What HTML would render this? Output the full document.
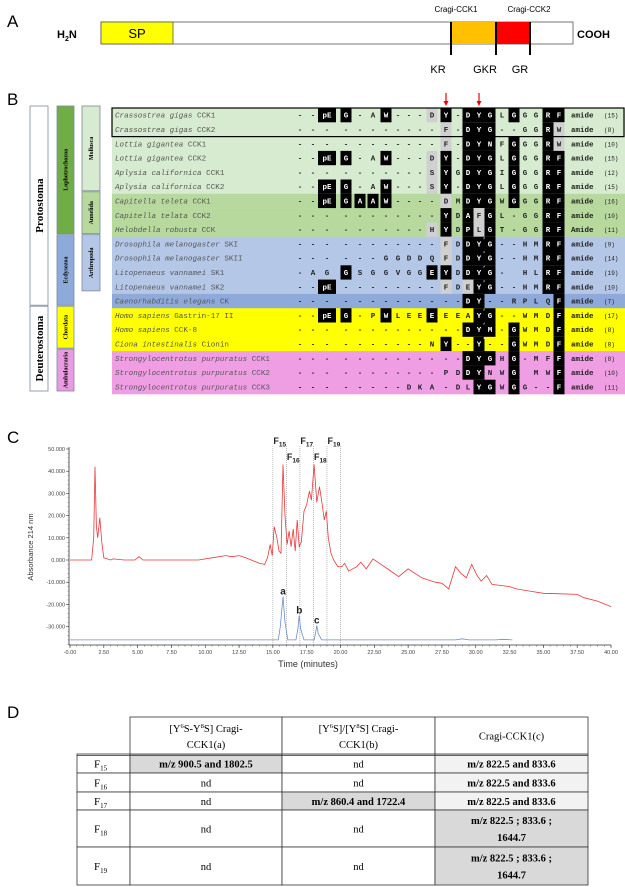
<!DOCTYPE html>
<html><head><meta charset="utf-8"><style>
body{margin:0;background:#fff;}
svg{display:block;font-family:"Liberation Sans",sans-serif;}
.mono{font-family:"Liberation Mono",monospace;}
.serif{font-family:"Liberation Serif",serif;}
</style></head><body>
<svg id="fig" width="625" height="887" viewBox="0 0 625 887" xmlns="http://www.w3.org/2000/svg">
<!-- Panel A -->
<g>
<text x="7" y="27" font-size="17">A</text>
<text x="57" y="38" font-size="11" font-weight="bold">H<tspan font-size="7" dy="3">2</tspan><tspan dy="-3">N</tspan></text>
<rect x="101" y="22" width="472" height="22" fill="#fff" stroke="#555" stroke-width="0.8"/>
<rect x="101" y="22" width="72" height="22" fill="#ffff00" stroke="#555" stroke-width="0.8"/>
<text x="137" y="38" font-size="13" text-anchor="middle">SP</text>
<rect x="451" y="22" width="45" height="22" fill="#ffc000"/>
<rect x="496" y="22" width="34" height="22" fill="#ff0000"/>
<line x1="451" y1="22" x2="451" y2="55" stroke="#000" stroke-width="2"/>
<line x1="496" y1="22" x2="496" y2="55" stroke="#000" stroke-width="2"/>
<line x1="530" y1="22" x2="530" y2="55" stroke="#000" stroke-width="2"/>
<text x="456" y="12" font-size="8" text-anchor="middle">Cragi-CCK1</text>
<text x="529" y="12" font-size="8" text-anchor="middle">Cragi-CCK2</text>
<text x="438" y="73" font-size="11" text-anchor="middle">KR</text>
<text x="485" y="73" font-size="11" text-anchor="middle">GKR</text>
<text x="520" y="73" font-size="11" text-anchor="middle">GR</text>
<text x="577" y="38" font-size="11" font-weight="bold">COOH</text>
</g>
<text x="7" y="105" font-size="17">B</text>
<g id="panelB"></g>
<text x="7" y="443" font-size="17">C</text>
<g id="panelC"></g>
<!-- Panel D -->
<text x="7" y="718" font-size="17">D</text>
<g id="panelD" class="serif"></g>
</svg>
<script>
// ---------- Panel B data ----------
const names = [
 ["Crassostrea gigas","CCK1"],["Crassostrea gigas","CCK2"],["Lottia gigantea","CCK1"],["Lottia gigantea","CCK2"],
 ["Aplysia californica","CCK1"],["Aplysia californica","CCK2"],["Capitella teleta","CCK1"],["Capitella telata","CCK2"],
 ["Helobdella robusta","CCK"],["Drosophila melanogaster","SKI"],["Drosophila melanogaster","SKII"],["Litopenaeus vannamei","SK1"],
 ["Litopenaeus vannamei","SK2"],["Caenorhabditis elegans","CK"],["Homo sapiens","Gastrin-17 II"],["Homo sapiens","CCK-8"],
 ["Ciona intestinalis","Cionin"],["Strongylocentrotus purpuratus","CCK1"],["Strongylocentrotus purpuratus","CCK2"],["Strongylocentrotus purpuratus","CCK3"]];
const seqs = [
 "- - pE G - A W - - - D Y - D Y G L G G G R F",
 "- - - - - - - - - - - F - D Y G - - G G R W",
 "- - - - - - - - - - - F - D Y N F G G G R W",
 "- - pE G - A W - - - D Y - D Y G L G G G R F",
 "- - - - - - - - - - S Y G D Y G I G G G R F",
 "- - pE G - A W - - - S Y - D Y G L G G G R F",
 "- - pE G A A W - - - - D M D Y G W G G G R F",
 "- - - - - - - - - - - Y D A F G L - G G R F",
 "- - - - - - - - - - H Y D P L G T - G G R F",
 "- - - - - - - - - - - F D D Y* G - - H M R F",
 "- - - - - - G G D D Q F D D Y* G - - H M R F",
 "- A G G S G G V G G E Y D D Y* G - _ H L R F",
 "- - pE - - - - - - - - F D E Y* G - - H M R F",
 "- - - - - - - - - - - - - D Y - - R P L Q F",
 "- - pE G - P W L E E E E E A Y* G - - W M D F",
 "- - - - - - - - - - - - - D Y* M - G W M D F",
 "- - - - - - - - - - N Y - - Y* - - G W M D F",
 "- - - - - - - - - - - - - D Y G H G - M F F",
 "- - - - - - - - - - - P D D Y N W G _ M W F",
 "- - - - - - - - D K A - D L Y G W G G - - F"];
const hilite = [
 "nnbbnnbnnngbnbbbnbnnbb","nnnnnnnnnnngnbbbnnnnbg","nnnnnnnnnnngnbbbnbnnbg","nnbbnnbnnngbnbbbnbnnbb",
 "nnnnnnnnnngbnbbbnbnnbb","nnbbnnbnnngbnbbbnbnnbb","nnbbbbbnnnngnbbbnbnnbb","nnnnnnnnnnnbnbgbnnnnbb",
 "nnnnnnnnnngbnbgbnnnnbb","nnnnnnnnnnngnbbbnnnnbb","nnnnnnnnnnngnbbbnnnnbb","nnnbnnnnnnbbnbbbnnnnbb",
 "nnbnnnnnnnngngbbnnnnbb","nnnnnnnnnnnnnbbnnnnnnb","nnbbnnbnnnbnnnbbnnnnnb","nnnnnnnnnnnnnbbbnbnnnb",
 "nnnnnnnnnnnbnnbnnbnnnb","nnnnnnnnnnnnnbbbnbnnnb","nnnnnnnnnnnnnbbnnbnnnb","nnnnnnnnnnnnnnbbnbnnnb"];
const lengths = [15,8,10,15,12,15,16,10,11,9,14,19,10,7,17,8,8,8,10,11];
const rowColors = ["#d6ebcf","#d6ebcf","#d6ebcf","#d6ebcf","#d6ebcf","#d6ebcf","#b8d99d","#b8d99d","#b8d99d",
 "#b5c7e7","#b5c7e7","#b5c7e7","#b5c7e7","#8eaadb","#ffff00","#ffff00","#ffff00","#ef9ee4","#ef9ee4","#ef9ee4"];
const colX = [300,313,327,346,360,373,386,398,409,420,432,446,458,468,479,490,502,514,525,536,548,559];
const NS = "http://www.w3.org/2000/svg";
function mk(tag, attrs, parent){const e=document.createElementNS(NS,tag);for(const k in attrs)e.setAttribute(k,attrs[k]);parent.appendChild(e);return e;}
const B = document.getElementById('panelB');
const rowTop = 108, rowH = 14.3;
names.forEach((nm,i)=>{
  const y0 = rowTop + i*rowH, cy = y0 + rowH/2 + 2.5;
  const g = mk('g',{},B);
  
  
  mk('rect',{x:112,y:y0,width:513,height:rowH+0.3,fill:rowColors[i]},g);
  const toks = seqs[i].split(' ');
  toks.forEach((t,j)=>{
    const h = hilite[i][j]; const x = colX[j];
    const w = t==='pE'?18:11;
    if(h==='b') mk('rect',{x:x-w/2,y:y0,width:w,height:rowH+0.3,fill:'#000'},g);
    if(h==='g') mk('rect',{x:x-w/2,y:y0,width:w,height:rowH+0.3,fill:'#d0d0d0'},g);
    if(t==='_') return;
    const star = t.endsWith('*'); const ch = star?t.slice(0,-1):t;
    const tx = mk('text',{x:x,y:cy,'font-size':7.5,'font-weight':'bold','text-anchor':'middle',fill:h==='b'?'#fff':'#222',class:'mono'},g);
    tx.textContent = ch;
    if(star){const s=mk('text',{x:x+3.5,y:cy-5,'font-size':6,fill:'#fff',class:'mono'},g);s.textContent='*';}
  });
  const nt = mk('text',{x:115,y:cy,'font-size':7.6,fill:'#555',class:'mono'},g);
  const it = mk('tspan',{'font-style':'italic'},nt); it.textContent = nm[0];
  const rt = mk('tspan',{},nt); rt.textContent = ' '+nm[1];
  const am = mk('text',{x:571,y:cy,'font-size':7.5,'font-weight':'bold',fill:'#222',class:'mono'},g);
  am.textContent = i===8?'Amide':'amide';
  const ln = mk('text',{x:604,y:cy,'font-size':6,fill:'#222',class:'mono'},g);
  ln.textContent = '('+lengths[i]+')';
});
const hb = mk('rect',{x:112,y:rowTop,width:512,height:rowH*2,fill:'none',stroke:'#000','stroke-width':1.2},B);


[446,479].forEach(x=>{
  const a=mk('g',{},B);
  
  
  mk('line',{x1:x,y1:93,x2:x,y2:102,stroke:'#e00','stroke-width':1.2},a);
  mk('path',{d:`M${x-2.5} 101 L${x+2.5} 101 L${x} 106 Z`,fill:'#e00'},a);
});
// taxonomy boxes
const tax = [
 [30,18,0,14,'#fff','Protostoma',11],[30,18,14,20,'#fff','Deuterostoma',11],
 [57,17,0,9,'#70ad47','Lophotrochozoa',6],[57,17,9,14,'#8eaadb','Ecdysozoa',6],
 [57,17,14,17,'#ffff00','Chordata',6],[57,17,17,20,'#e99ae0','Ambulacraria',6],
 [82,18,0,6,'#d6ebcf','Mollusca',6],[82,18,6,9,'#b8d99d','Annelida',6],[82,18,9,13,'#b5c7e7','Arthropoda',6]];
tax.forEach(t=>{
  const [x,w,r0,r1,c,label,fs]=t;
  const y0=rowTop+r0*rowH-2, h=(r1-r0)*rowH-1;
  const g=mk('g',{},B);
  
  
  mk('rect',{x:x,y:y0,width:w,height:h,fill:c,stroke:'#7a8aa0','stroke-width':0.8},g);
  const cx=x+w/2+fs*0.35, cy=y0+h/2;
  const tx=mk('text',{x:cx,y:cy,'font-size':fs,'font-weight':'bold','text-anchor':'middle',class:'serif',transform:`rotate(-90 ${cx} ${cy})`},g);
  tx.textContent=label;
});

// ---------- Panel C data ----------
const redTimes = [0,1.6,1.75,1.85,1.95,2.05,2.2,2.35,2.5,3,3.2,4,4.8,5.1,5.4,8,9.5,10.5,11.5,12,12.5,13,14,14.4,14.6,14.8,14.95,15.1,15.3,15.45,15.6,15.75,15.9,16.05,16.2,16.35,16.5,16.65,16.8,16.95,17.1,17.3,17.5,17.7,17.85,18.05,18.25,18.45,18.65,18.8,18.95,19.1,19.3,19.5,19.8,20.1,20.3,20.6,21.2,21.5,21.9,22.4,23,23.6,24.3,25,26,27,27.5,28,28.5,28.9,29.3,29.7,30.1,30.4,30.8,31.2,32.5,33,34,35,36,37.5,38,39,40];
const redValues = [0,0,10,42,15,10,19,8,1,0,0.5,0,0,1.5,0,0,0,1,2,1.5,2,1,-1.5,-2,1,7,2,15,10,4,3,43,20,7,13,6,14,4,18,6,8,22,25,31,27,43,26,33,25,18,22,10,3,0,-3,-3,-1.5,-5,-3,-1,-4,0.5,-2,-4.5,-7.5,-4,-8,-10,-10.5,-13,-3,-6,-8,-2,-7,-9.5,-7,-11,-12,-13,-14,-15,-15.2,-15.5,-17,-18.5,-21];
const blueTimes = [0,15.4,15.55,15.75,15.9,16.1,16.7,16.85,16.95,17.05,17.3,18.05,18.15,18.25,18.35,18.6,28.5,29,29.5,31.5,32,32.7];
const blueValues = [-36,-36,-30,-16.5,-28,-36,-36,-31,-25,-31,-36,-36,-33,-29.5,-33,-36,-36,-35.5,-36,-36,-35.7,-36];
const fracTimes = [15,16,17,18,19,20];
const fracLabels = ["15","16","17","18","19"];
const peakLabels = ["a","b","c"];
const peakTimes = [15.75,16.95,18.25];
const peakValues = [-16.5,-25,-29.5];
const yTicks = [50,40,30,20,10,0,-10,-20,-30];
const yTickLabels = ["50.000","40.000","30.000","20.000","10.000","0.000","-10.000","-20.000","-30.000"];
const xTicks = [0,2.5,5,7.5,10,12.5,15,17.5,20,22.5,25,27.5,30,32.5,35,37.5,40];
const xTickLabels = ["-0.00","2.50","5.00","7.50","10.00","12.50","15.00","17.50","20.00","22.50","25.00","27.50","30.00","32.50","35.00","37.50","40.00"];
const C = document.getElementById('panelC');
const X0=70, X1=611, Tmax=40, YZ=560, YPU=2.22, YBOT=645;
const xs = t => X0 + t/Tmax*(X1-X0);
const ys = v => YZ - v*YPU;
const yax = mk('line',{x1:69,y1:447,x2:69,y2:YBOT,stroke:'#333','stroke-width':0.8},C);


const xax = mk('line',{x1:69,y1:YBOT,x2:X1,y2:YBOT,stroke:'#333','stroke-width':0.8},C);


yTicks.forEach((v,i)=>{
  mk('line',{x1:66,y1:ys(v),x2:69,y2:ys(v),stroke:'#333','stroke-width':0.6},C);
  for(let k=1;k<5;k++){const yy=ys(v)+k*YPU*2; if(yy<YBOT) mk('line',{x1:67.5,y1:yy,x2:69,y2:yy,stroke:'#555','stroke-width':0.4},C);}
  const t=mk('text',{x:65,y:ys(v)+2,'font-size':5.5,'text-anchor':'end',fill:'#444'},C);
  
  
  t.textContent=yTickLabels[i];
});
for(let m=0;m<=40.001;m+=0.5){mk('line',{x1:xs(m),y1:YBOT,x2:xs(m),y2:YBOT+1.8,stroke:'#444','stroke-width':0.4},C);}
xTicks.forEach((m,i)=>{
  mk('line',{x1:xs(m),y1:YBOT,x2:xs(m),y2:YBOT+3,stroke:'#333','stroke-width':0.6},C);
  const t=mk('text',{x:xs(m),y:YBOT+9,'font-size':5.5,'text-anchor':'middle',fill:'#444'},C);
  
  
  t.textContent=xTickLabels[i];
});
const xt=mk('text',{x:308,y:667,'font-size':9,'text-anchor':'middle',fill:'#333'},C);


xt.textContent='Time (minutes)';
const yt=mk('text',{x:33,y:547,'font-size':7.5,'text-anchor':'middle',fill:'#333',transform:'rotate(-90 33 547)'},C);


yt.textContent='Absorbance 214 nm';
fracTimes.forEach(m=>{
  const l=mk('line',{x1:xs(m),y1:446,x2:xs(m),y2:YBOT,stroke:'#777','stroke-width':0.5,'stroke-dasharray':'1,1'},C);
  
  
});
fracLabels.forEach((lab,i)=>{
  const x=xs(fracTimes[i])+0.5, y=(i%2===0)?444:460;
  const t=mk('text',{x:x,y:y,'font-size':9,'font-weight':'bold',fill:'#222'},C);
  
  
  t.textContent='F';
  const s=mk('tspan',{'font-size':6.5,dy:2.5},t); s.textContent=lab;
});
const rp = mk('path',{d:redTimes.map((t,i)=>(i?'L':'M')+xs(t).toFixed(1)+' '+ys(redValues[i]).toFixed(1)).join(' '),fill:'none',stroke:'#e8393c','stroke-width':0.8},C);


const bp = mk('path',{d:blueTimes.map((t,i)=>(i?'L':'M')+xs(t).toFixed(1)+' '+ys(blueValues[i]).toFixed(1)).join(' '),fill:'none',stroke:'#6b8fc0','stroke-width':0.8},C);


peakLabels.forEach((p,i)=>{
  const t=mk('text',{x:xs(peakTimes[i]),y:ys(peakValues[i])-2,'font-size':10,'font-weight':'bold','text-anchor':'middle',fill:'#222'},C);
  
  
  t.textContent=p;
});

// ---------- Panel D ----------
const D = document.getElementById('panelD');
const cols=[77,130,282,435,588];
const rows=[717,754,773,792,810,847,885];
const header=[null,["[Y","6","S-Y","8","S] Cragi-","CCK1(a)"],["[Y","6","S]/[Y","8","S] Cragi-","CCK1(b)"],["Cragi-CCK1(c)"]];
const cells=[
 ["15","m/z 900.5 and 1802.5","nd","m/z 822.5 and 833.6"],
 ["16","nd","nd","m/z 822.5 and 833.6"],
 ["17","nd","m/z 860.4 and 1722.4","m/z 822.5 and 833.6"],
 ["18","nd","nd","m/z 822.5 ; 833.6 ;|1644.7"],
 ["19","nd","nd","m/z 822.5 ; 833.6 ;|1644.7"]];
const shade=[["","#d9d9d9","","#f2f2f2"],["","","","#f2f2f2"],["","","#d9d9d9","#f2f2f2"],["","","","#d9d9d9"],["","","","#d9d9d9"]];
cells.forEach((r,ri)=>{
  r.forEach((v,ci)=>{
    const x=cols[ci],w=cols[ci+1]-x,y=rows[ri+1],h=rows[ri+2]-y;
    const cell=mk('g',{},D);
    
    
    mk('rect',{x:x,y:y,width:w,height:h,fill:shade[ri][ci]||'#fff',stroke:'#333','stroke-width':0.8},cell);
    const cx=x+w/2, cy=y+h/2;
    if(ci===0){const t=mk('text',{x:cx-3,y:cy+4,'font-size':11,'text-anchor':'middle'},cell);t.textContent='F';const s=mk('tspan',{'font-size':7,dy:3},t);s.textContent=v;return;}
    const bold = v!=='nd';
    const parts=v.split('|');
    parts.forEach((p,k)=>{
      const t=mk('text',{x:cx,y:cy+4+(k-(parts.length-1)/2)*17,'font-size':10.5,'text-anchor':'middle','font-weight':bold?'bold':'normal'},cell);
      t.textContent=p;
    });
  });
});
header.forEach((hd,ci)=>{
  if(!hd) return;
  const x=cols[ci],w=cols[ci+1]-x,y=rows[0],h=rows[1]-y;
  const cell=mk('g',{},D);
  
  
  mk('rect',{x:x,y:y,width:w,height:h,fill:'#fff',stroke:'#333','stroke-width':0.8},cell);
  const cx=x+w/2;
  if(hd.length===1){const t=mk('text',{x:cx,y:y+h/2+4,'font-size':10.5,'text-anchor':'middle'},cell);t.textContent=hd[0];return;}
  const t=mk('text',{x:cx,y:y+15,'font-size':10.5,'text-anchor':'middle'},cell);
  const a=mk('tspan',{},t);a.textContent=hd[0];
  const b=mk('tspan',{'font-size':6.5,dy:-4},t);b.textContent=hd[1];
  const c=mk('tspan',{dy:4},t);c.textContent=hd[2];
  const d=mk('tspan',{'font-size':6.5,dy:-4},t);d.textContent=hd[3];
  const e=mk('tspan',{dy:4},t);e.textContent=hd[4];
  const t2=mk('text',{x:cx,y:y+31,'font-size':10.5,'text-anchor':'middle'},cell);t2.textContent=hd[5];
});
mk('line',{x1:77,y1:755.5,x2:588,y2:755.5,stroke:'#333','stroke-width':0.8},D);
</script>
</body></html>
